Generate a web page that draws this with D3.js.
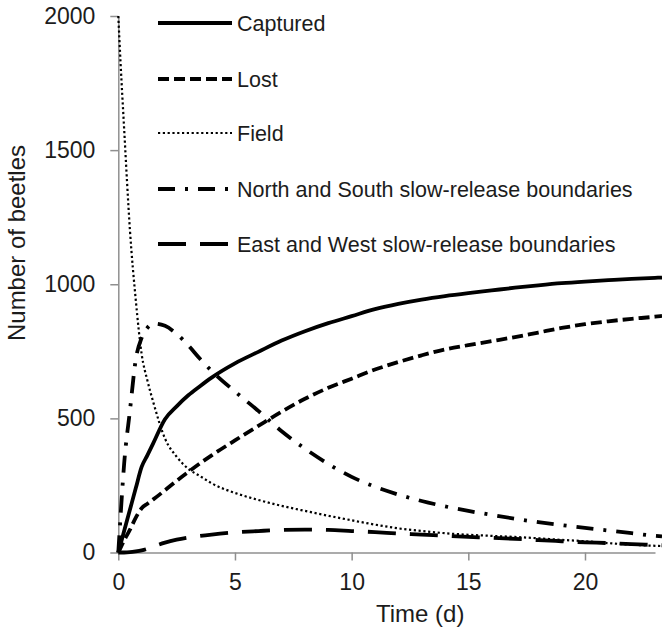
<!DOCTYPE html>
<html>
<head>
<meta charset="utf-8">
<script src="https://cdn.jsdelivr.net/npm/d3@7"></script>
<style>
  body { margin: 0; background: #fff; }
  svg { display: block; font-family: "Liberation Sans", Arial, sans-serif; }
</style>
</head>
<body>
<div id="chart"></div>
<script>
const width = 662;
const height = 635;

// time in days, shared by all series
const times = [0, 0.1, 0.25, 0.5, 0.75, 1, 1.25, 1.5, 2, 2.5, 3, 3.5, 4, 5, 6, 7, 8, 9, 10,
               11, 12, 13, 14, 15, 16, 17, 18, 19, 20, 21, 22, 23, 23.3];

const captured = [0, 32, 80, 160, 240, 319, 363, 408, 497, 545, 586, 620, 652, 705, 748, 790, 825, 855, 881,
                  907, 927, 943, 956, 967, 977, 987, 996, 1004, 1010, 1015, 1020, 1024, 1025];
const lost = [0, 18, 45, 85, 130, 165, 182, 198, 232, 267, 300, 332, 362, 418, 472, 525, 573, 614, 648,
              682, 710, 735, 757, 773, 788, 803, 820, 837, 851, 862, 871, 879, 882];
const field = [2000, 1820, 1580, 1200, 940, 740, 640, 560, 425, 357, 312, 285, 258, 222, 196, 174, 155, 137, 120,
               104, 90, 80, 72, 66, 62, 58, 53, 47, 42, 35, 29, 25, 24];
const northSouth = [0, 140, 330, 530, 720, 800, 838, 854, 845, 815, 772, 722, 677, 600, 528, 452, 387, 330, 282,
                    245, 216, 192, 172, 155, 140, 126, 113, 102, 92, 82, 72, 62, 60];
const eastWest = [0, 0, 0, 1, 4, 8, 14, 22, 37, 48, 56, 62, 67, 75, 80, 84, 85, 84, 80,
                  76, 71, 67, 62, 58, 55, 51, 46, 42, 38, 35, 31, 28, 27];

const seriesNames = ["Captured", "Lost", "Field",
  "North and South slow-release boundaries", "East and West slow-release boundaries"];
const seriesValues = [captured, lost, field, northSouth, eastWest];
const seriesDash = [null, "11,5", "2.2,2.6", "17,10,3,10", "28,14"];

const xTicks = [0, 5, 10, 15, 20];
const yTicks = [0, 500, 1000, 1500, 2000];

const svg = d3.select("#chart").append("svg")
  .attr("width", width)
  .attr("height", height);

svg.append("rect").attr("width", width).attr("height", height).attr("fill", "#fff");

const x = d3.scaleLinear().domain([0, 23]).range([118.3, 655]);
const y = d3.scaleLinear().domain([0, 2000]).range([552.5, 16]);

const axisColor = "#8f8f8f";
const textColor = "#1c1c1c";

// axes
const gx = svg.append("g")
  .attr("transform", "translate(0," + y(0) + ")")
  .call(d3.axisBottom(x).tickValues(xTicks).tickFormat(d3.format("d"))
    .tickSize(8).tickSizeOuter(0).tickPadding(13));
const gy = svg.append("g")
  .attr("transform", "translate(" + x(0) + ",0)")
  .call(d3.axisLeft(y).tickValues(yTicks).tickFormat(d3.format("d"))
    .tickSize(8).tickSizeOuter(0).tickPadding(15));

[gx, gy].forEach(function(g) {
  g.select(".domain").attr("stroke", axisColor).attr("stroke-width", 1.5);
  g.selectAll(".tick line").attr("stroke", axisColor).attr("stroke-width", 1.5);
  g.selectAll(".tick text")
    .attr("fill", textColor)
    .attr("font-size", "23px")
    .attr("font-family", "Liberation Sans, Arial, sans-serif");
});

// axis titles
svg.append("text")
  .attr("x", 376)
  .attr("y", 622)
  .attr("fill", textColor)
  .attr("font-size", "24px")
  .text("Time (d)");

svg.append("text")
  .attr("transform", "translate(25,243) rotate(-90)")
  .attr("text-anchor", "middle")
  .attr("fill", textColor)
  .attr("font-size", "24px")
  .text("Number of beetles");

// curves
const line = d3.line()
  .x(function(d) { return x(d[0]); })
  .y(function(d) { return y(d[1]); })
  .curve(d3.curveMonotoneX);

seriesValues.forEach(function(vals, i) {
  const pts = times.map(function(t, j) { return [t, vals[j]]; });
  const sw = i == 2 ? 2.2 : 3.8;
  svg.append("path")
    .datum(pts)
    .attr("fill", "none")
    .attr("stroke", "#000")
    .attr("stroke-width", sw)
    .attr("stroke-dasharray", seriesDash[i])
    .attr("d", line);
});

// legend
const legendY = [23, 79, 133, 189, 244];
const legend = svg.append("g");
seriesNames.forEach(function(name, i) {
  legend.append("line")
    .attr("x1", 158).attr("x2", 232)
    .attr("y1", legendY[i]).attr("y2", legendY[i])
    .attr("stroke", "#000")
    .attr("stroke-width", i == 2 ? 2.2 : 3.8)
    .attr("stroke-dasharray", seriesDash[i]);
  legend.append("text")
    .attr("x", 237)
    .attr("y", legendY[i])
    .attr("dy", "0.36em")
    .attr("fill", textColor)
    .attr("font-size", "21.5px")
    .text(name);
});
</script>
</body>
</html>
